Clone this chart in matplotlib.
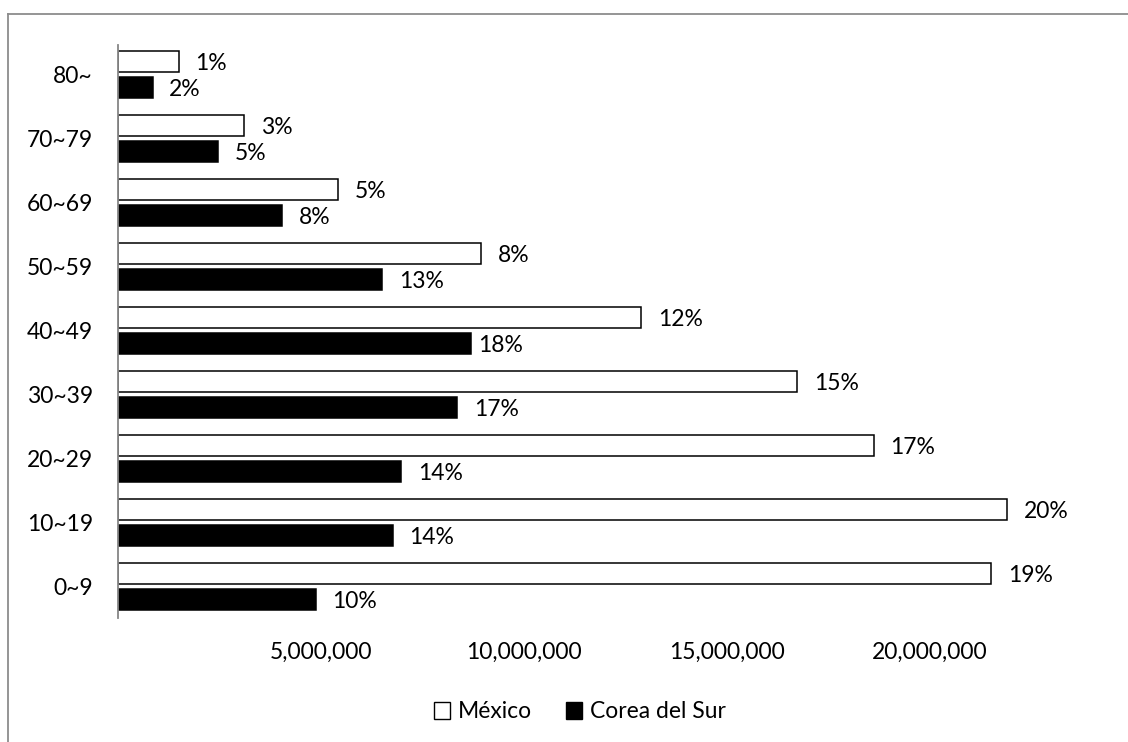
import numpy as np
import matplotlib
matplotlib.use("Agg")
import matplotlib.pyplot as plt
from matplotlib.patches import Patch
from matplotlib.lines import Line2D
from matplotlib.ticker import FixedLocator, FuncFormatter

plt.rcParams["font.family"] = ["Lato", "DejaVu Sans"]

# ── data (population by age group) ───────────────────────────────
age_groups = ["0~9", "10~19", "20~29", "30~39", "40~49",
              "50~59", "60~69", "70~79", "80~"]
mexico = [21.50e6, 21.90e6, 18.61e6, 16.72e6, 12.89e6,
          8.94e6, 5.42e6, 3.10e6, 1.50e6]
korea = [4.87e6, 6.77e6, 6.97e6, 8.35e6, 8.69e6,
         6.51e6, 4.04e6, 2.46e6, 0.85e6]
mexico_pct = ["19%", "20%", "17%", "15%", "12%", "8%", "5%", "3%", "1%"]
korea_pct = ["10%", "14%", "14%", "17%", "18%", "13%", "8%", "5%", "2%"]
x_ticks = [5e6, 10e6, 15e6, 20e6]

FS = 16.5

# ── figure ────────────────────────────────────────────────────────
fig = plt.figure(figsize=(11.28, 7.42), dpi=100)
ax = fig.add_axes([0.1046, 0.1671, 0.864, 0.7723])

y = np.arange(len(age_groups))
h = 0.33
off = 0.205
b_mx = ax.barh(y + off, mexico, height=h, color="white",
               edgecolor="black", linewidth=1.1, label="México")
b_kr = ax.barh(y - off, korea, height=h, color="black",
               edgecolor="black", linewidth=1.1, label="Corea del Sur")

# percentage labels at the bar ends
for bars, labels in ((b_mx, mexico_pct), (b_kr, korea_pct)):
    for bar, lab in zip(bars, labels):
        pad = 12
        if bars is b_kr and lab == "18%":
            pad = 5.5   # this one sits closer in the original
        ax.annotate(lab, (bar.get_width(), bar.get_y() + bar.get_height() / 2),
                    xytext=(pad, -1.5), textcoords="offset points",
                    ha="left", va="center", fontsize=FS)

ax.set_xlim(0, 24e6)
ax.set_ylim(-0.49, 8.46)
ax.set_yticks(y)
ax.set_yticklabels(age_groups, fontsize=FS)
ax.xaxis.set_major_locator(FixedLocator(x_ticks))
ax.xaxis.set_major_formatter(FuncFormatter(lambda v, p: f"{int(v):,}"))
ax.tick_params(axis="both", length=0, labelsize=FS)
ax.tick_params(axis="x", pad=17)
ax.tick_params(axis="y", pad=18)

for s in ("top", "right", "bottom"):
    ax.spines[s].set_visible(False)
ax.spines["left"].set_color("#868686")
ax.spines["left"].set_linewidth(1.3)

handles = [Patch(facecolor="white", edgecolor="black", linewidth=1.0),
           Patch(facecolor="black", edgecolor="black", linewidth=1.0)]
fig.legend(handles, ["México", "Corea del Sur"], loc="center",
           bbox_to_anchor=(580 / 1128, 30 / 742), ncol=2, frameon=False,
           fontsize=FS, handlelength=0.7, handleheight=0.7,
           handletextpad=0.35, columnspacing=1.5)

# outer chart border (only left/top visible in the original crop)
fig.add_artist(Line2D([7.5 / 1128, 7.5 / 1128], [0, 1 - 13.5 / 742],
                      color="#8c8c8c", linewidth=1.3))
fig.add_artist(Line2D([7.5 / 1128, 1], [1 - 13.5 / 742, 1 - 13.5 / 742],
                      color="#8c8c8c", linewidth=1.3))

fig.savefig("out.png", dpi=100)
